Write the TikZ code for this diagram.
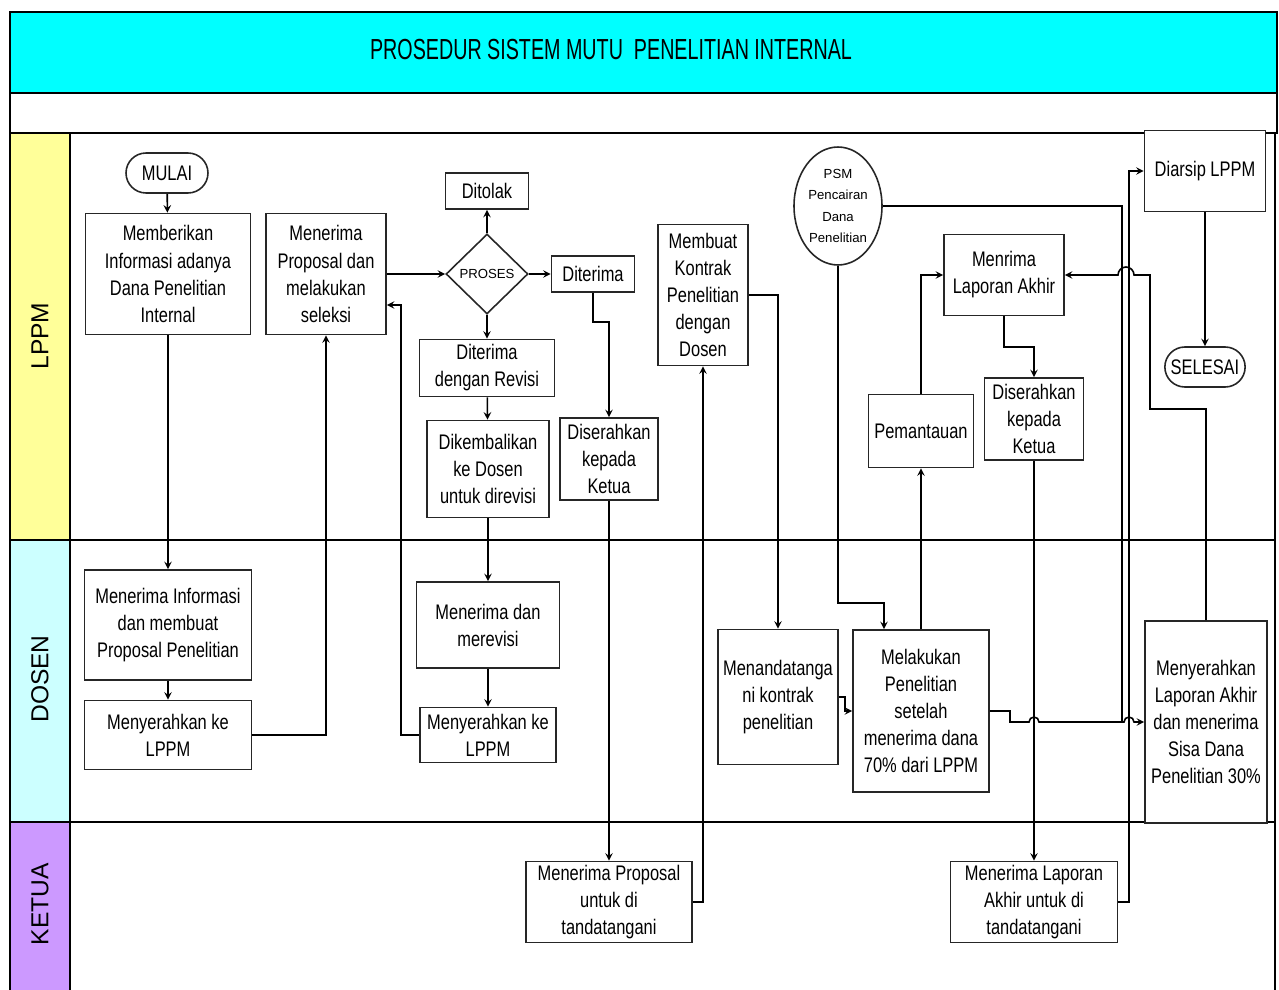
\documentclass[tikz,border=0pt]{standalone}
\usepackage{fontspec}
\setmainfont{Liberation Sans}
\newfontfamily\narrowfont{Liberation Sans}[FakeStretch=0.78]
\newfontfamily\titlefont{Liberation Sans}[FakeStretch=0.68]
\usetikzlibrary{shapes.geometric, arrows}

\definecolor{judulcyan}{RGB}{0,255,255}
\definecolor{lppmkuning}{RGB}{255,255,153}
\definecolor{dosencyan}{RGB}{204,255,255}
\definecolor{ketuaungu}{RGB}{204,153,255}

\begin{document}
\begin{tikzpicture}[x=0.02cm, y=-0.02cm, line width=0.9pt]
       \tikzstyle{arrow} = [->,>=stealth]
       \tikzstyle{conn} = [-]
       \tikzstyle{lane} = [draw=black, line width=1.3pt]
       \tikzstyle{lanelabel} = [rotate=90, font=\fontsize{14}{16}\selectfont]
       \tikzstyle{proc} = [rectangle, draw=black!85, fill=white, align=center, inner sep=1pt, font=\narrowfont\fontsize{12}{15.4}\selectfont]
       \tikzstyle{terminal} = [rectangle, rounded corners=0.4cm, draw=black!85, fill=white, font=\narrowfont\fontsize{12}{14}\selectfont]
       \tikzstyle{decision} = [diamond, aspect=1, draw=black!85, fill=white, inner sep=0pt, font=\fontsize{7.5}{9}\selectfont]
       \useasboundingbox (0,0) rectangle (1279,990);

       % swimlanes
       \fill [judulcyan] (10,12) rectangle (1277,93);
       \draw [lane] (10,12) rectangle (1277,93);
       \draw [lane] (10,93) rectangle (1277,133);
       \draw [lane, fill=lppmkuning] (10,133) rectangle (70,540);
       \draw [lane] (70,133) rectangle (1275,540);
       \draw [lane, fill=dosencyan] (10,540) rectangle (70,822);
       \draw [lane] (70,540) rectangle (1275,822);
       \fill [ketuaungu] (10,822) rectangle (70,990);
       \draw [lane] (10,990) -- (10,822) -- (1275,822) -- (1275,990);
       \draw [lane] (70,822) -- (70,990);
       \node (judul) [font=\titlefont\fontsize{16.5}{18}\selectfont] at (611,50) {PROSEDUR SISTEM MUTU\ \ PENELITIAN INTERNAL};
       \node (lane-lppm) [lanelabel] at (40,336) {LPPM};
       \node (lane-dosen) [lanelabel] at (40,679) {DOSEN};
       \node (lane-ketua) [lanelabel] at (40,904) {KETUA};

       % LPPM
       \node (mulai) [terminal, minimum width=1.64cm, minimum height=0.8cm] at (167,173) {MULAI};
       \node (beri-info) [proc, minimum width=3.3cm, minimum height=2.42cm] at (168,274) {Memberikan\\Informasi adanya\\Dana Penelitian\\Internal};
       \node (terima-proposal) [proc, minimum width=2.4cm, minimum height=2.42cm] at (326,274) {Menerima\\Proposal dan\\melakukan\\seleksi};
       \node (proses) [decision, minimum width=1.64cm, minimum height=1.6cm] at (487,274) {PROSES};
       \node (ditolak) [proc, minimum width=1.66cm, minimum height=0.72cm] at (487,191) {Ditolak};
       \node (diterima) [proc, minimum width=1.66cm, minimum height=0.72cm] at (593,274) {Diterima};
       \node (terima-revisi) [proc, minimum width=2.7cm, minimum height=1.14cm] at (487,368) {Diterima\\dengan Revisi};
       \node (kembali) [proc, minimum width=2.44cm, minimum height=1.94cm] at (488,469) {Dikembalikan\\ke Dosen\\untuk direvisi};
       \node (serah-ketua-a) [proc, minimum width=1.96cm, minimum height=1.64cm] at (609,459) {Diserahkan\\kepada\\Ketua};
       \node (kontrak) [proc, minimum width=1.8cm, minimum height=2.82cm] at (703,295) {Membuat\\Kontrak\\Penelitian\\dengan\\Dosen};
       \node (psm) [ellipse, draw=black!85, fill=white, minimum width=1.76cm, minimum height=2.36cm, inner sep=0pt, align=center, font=\fontsize{7.5}{12}\selectfont] at (838,206) {PSM\\Pencairan\\Dana\\Penelitian};
       \node (terima-laporan) [proc, minimum width=2.4cm, minimum height=1.62cm] at (1004,275) {Menrima\\Laporan Akhir};
       \node (pemantauan) [proc, minimum width=2.1cm, minimum height=1.46cm] at (921,431) {Pemantauan};
       \node (serah-ketua-b) [proc, minimum width=1.98cm, minimum height=1.64cm] at (1034,419) {Diserahkan\\kepada\\Ketua};
       \node (arsip) [proc, minimum width=2.42cm, minimum height=1.62cm] at (1205,171) {Diarsip LPPM};
       \node (selesai) [terminal, minimum width=1.6cm, minimum height=0.8cm] at (1205,367) {SELESAI};

       % DOSEN
       \node (terima-info) [proc, minimum width=3.34cm, minimum height=2.2cm] at (168,625) {Menerima Informasi\\dan membuat\\Proposal Penelitian};
       \node (serah-a) [proc, minimum width=3.34cm, minimum height=1.38cm] at (168,735) {Menyerahkan ke\\LPPM};
       \node (revisi) [proc, minimum width=2.86cm, minimum height=1.72cm] at (488,625) {Menerima dan\\merevisi};
       \node (serah-b) [proc, minimum width=2.72cm, minimum height=1.1cm] at (488,735) {Menyerahkan ke\\LPPM};
       \node (tandatangan) [proc, minimum width=2.4cm, minimum height=2.7cm] at (778,697) {Menandatanga\\ni kontrak\\penelitian};
       \node (melakukan) [proc, minimum width=2.72cm, minimum height=3.24cm] at (921,711) {Melakukan\\Penelitian\\setelah\\menerima dana\\70\% dari LPPM};
       \node (serah-laporan) [proc, minimum width=2.44cm, minimum height=4.04cm] at (1206,722) {Menyerahkan\\Laporan Akhir\\dan menerima\\Sisa Dana\\Penelitian 30\%};

       % KETUA
       \node (ketua-proposal) [proc, minimum width=3.32cm, minimum height=1.62cm] at (609,902) {Menerima Proposal\\untuk di\\tandatangani};
       \node (ketua-laporan) [proc, minimum width=3.34cm, minimum height=1.62cm] at (1034,902) {Menerima Laporan\\Akhir untuk di\\tandatangani};

       % alur
       \draw [arrow] (mulai) -- (beri-info);
       \draw [arrow] (beri-info) -- (terima-info);
       \draw [arrow] (terima-info) -- (serah-a);
       \draw [arrow] (serah-a.east) -| (terima-proposal.south);
       \draw [arrow] (terima-proposal.east) -- (proses.west);
       \draw [arrow] (proses.north) -- (ditolak.south);
       \draw [arrow] (proses.east) -- (diterima.west);
       \draw [arrow] (proses.south) -- (terima-revisi.north);
       \draw [arrow] (terima-revisi) -- (kembali);
       \draw [arrow] (kembali) -- (revisi);
       \draw [arrow] (revisi) -- (serah-b);
       \draw [arrow] (serah-b.west) -| (401,305) -- (terima-proposal.east |- 0,305);
       \draw [arrow] (diterima.south) |- (609,322) -- (serah-ketua-a.north);
       \draw [arrow] (serah-ketua-a) -- (ketua-proposal);
       \draw [arrow] (ketua-proposal.east) -| (kontrak.south);
       \draw [arrow] (kontrak.east) -| (tandatangan.north);
       \draw [arrow] (tandatangan.east) -- ++(6,0) |- (melakukan.west);
       \draw [arrow] (psm.south) |- (884,603) -- (melakukan.north -| 884,0);
       \draw [arrow] (melakukan.north) -- (pemantauan.south);
       \draw [arrow] (pemantauan.north) |- (terima-laporan.west);
       \draw [arrow] (terima-laporan.south) |- (1034,347) -- (serah-ketua-b.north);
       \draw [arrow] (serah-ketua-b) -- (ketua-laporan);
       \draw [conn] (psm.east) -| (1122,722);
       \draw [arrow] (melakukan.east) -- (1010,711) -- (1010,722) -- (1029,722) arc[start angle=180, end angle=360, radius=5] -- (1124,722) arc[start angle=180, end angle=360, radius=5] -- (serah-laporan.west);
       \draw [arrow] (ketua-laporan.east) -| (1129,171) -- (arsip.west);
       \draw [arrow] (serah-laporan.north) |- (1150,409) -- (1150,275) -- (1134,275) arc[start angle=0, end angle=-180, radius=8] -- (terima-laporan.east);
       \draw [arrow] (arsip) -- (selesai);
\end{tikzpicture}
\end{document}
